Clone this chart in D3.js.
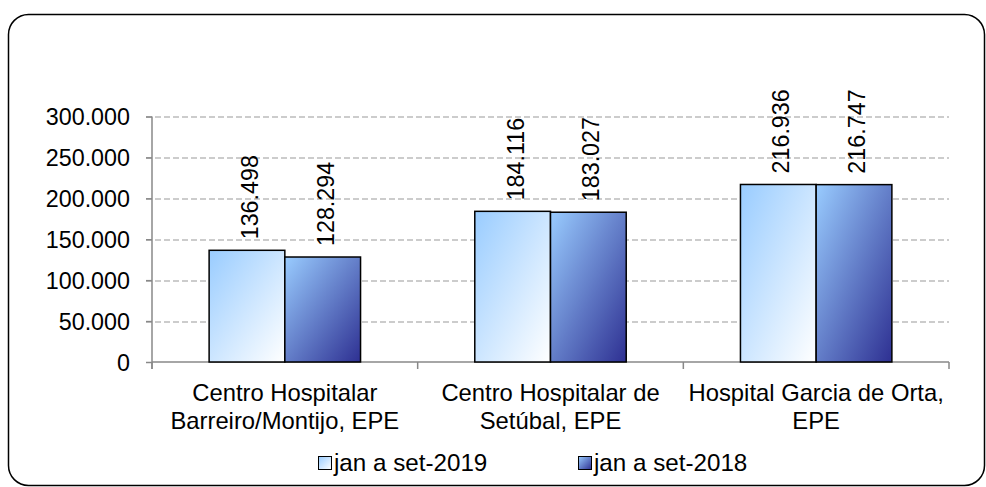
<!DOCTYPE html>
<html>
<head>
<meta charset="utf-8">
<script src="https://cdn.jsdelivr.net/npm/d3@7"></script>
<style>
  body { margin: 0; background: #fff; }
  text { font-family: "Liberation Sans", Arial, sans-serif; fill: #000; }
</style>
</head>
<body>
<svg id="chart" width="986" height="487"></svg>
<script>
var categories = [
  ["Centro Hospitalar", "Barreiro/Montijo, EPE"],
  ["Centro Hospitalar de", "Setúbal, EPE"],
  ["Hospital Garcia de Orta,", "EPE"]
];
var series = ["jan a set-2019", "jan a set-2018"];
var values2019 = [136498, 184116, 216936];
var values2018 = [128294, 183027, 216747];
var yTicks = [0, 50000, 100000, 150000, 200000, 250000, 300000];

var svg = d3.select("#chart");
var fs = 23.3;
var margin = {left: 152, right: 37, top: 116.5, bottom: 125};
var width = 986 - margin.left - margin.right;
var height = 487 - margin.top - margin.bottom;

var loc = d3.formatLocale({decimal: ",", thousands: ".", grouping: [3], currency: ["", ""]});
var fmt = loc.format(",d");

// gradients
var defs = svg.append("defs");
var grads = [["g2019", "#99ccff", "#ffffff"], ["g2018", "#99ccff", "#2e3092"]];
grads.forEach(function(g) {
  var lg = defs.append("linearGradient").attr("id", g[0])
    .attr("x1", 0).attr("y1", 0).attr("x2", 1).attr("y2", 1);
  lg.append("stop").attr("offset", "0%").attr("stop-color", g[1]);
  lg.append("stop").attr("offset", "100%").attr("stop-color", g[2]);
});

// frame
svg.append("rect").attr("x", 8.5).attr("y", 14.5).attr("width", 976).attr("height", 471)
  .attr("rx", 20).attr("fill", "#fff").attr("stroke", "#000").attr("stroke-width", 1.5);

var g = svg.append("g").attr("transform", "translate(" + margin.left + "," + margin.top + ")");

var x0 = d3.scaleBand().domain(d3.range(categories.length)).range([0, width]).paddingInner(0).paddingOuter(0);
var x1 = d3.scaleBand().domain(series).range([x0.bandwidth() * 0.215, x0.bandwidth() * 0.785]);
var y = d3.scaleLinear().domain([0, 300000]).range([height, 0]);

// gridlines
g.selectAll(".grid").data(yTicks.slice(1)).enter().append("line")
  .attr("x1", -6).attr("x2", width)
  .attr("y1", function(d) { return Math.round(y(d)) + 0.5; })
  .attr("y2", function(d) { return Math.round(y(d)) + 0.5; })
  .attr("stroke", "#999").attr("stroke-width", 1.2).attr("stroke-dasharray", "6,3");

// y axis
var yAxis = g.append("g").call(d3.axisLeft(y).tickValues(yTicks).tickFormat(fmt).tickSize(6).tickPadding(16));
yAxis.select(".domain").attr("stroke", "#888").attr("stroke-width", 1.5).attr("d", "M0,0V" + (height + 7));
yAxis.selectAll(".tick line").attr("stroke", "#888").attr("stroke-width", 1.5);
yAxis.selectAll(".tick text").attr("font-size", fs).attr("font-family", "Liberation Sans, Arial, sans-serif").attr("dy", "0.36em");

// x axis line and ticks
g.append("line").attr("x1", 0).attr("x2", width).attr("y1", height).attr("y2", height)
  .attr("stroke", "#888").attr("stroke-width", 1.5);
g.selectAll(".xtick").data(d3.range(categories.length + 1)).enter().append("line")
  .attr("x1", function(i) { return i * x0.step(); })
  .attr("x2", function(i) { return i * x0.step(); })
  .attr("y1", height).attr("y2", height + 7)
  .attr("stroke", "#888").attr("stroke-width", 1.5);

// bars
var data = [];
categories.forEach(function(c, i) {
  data.push({cat: i, s: series[0], v: values2019[i], grad: "g2019"});
  data.push({cat: i, s: series[1], v: values2018[i], grad: "g2018"});
});

g.selectAll(".bar").data(data).enter().append("rect")
  .attr("x", function(d) { return x0(d.cat) + x1(d.s); })
  .attr("y", function(d) { return y(d.v); })
  .attr("width", x1.bandwidth())
  .attr("height", function(d) { return height - y(d.v); })
  .attr("fill", function(d) { return "url(#" + d.grad + ")"; })
  .attr("stroke", "#000").attr("stroke-width", 1.5);

// value labels
g.selectAll(".lbl").data(data).enter().append("text")
  .attr("transform", function(d) {
    return "translate(" + (x0(d.cat) + x1(d.s) + x1.bandwidth() / 2 + 11) + "," + (y(d.v) - 11) + ") rotate(-90)";
  })
  .attr("font-size", fs)
  .text(function(d) { return fmt(d.v); });

// category labels
var cl = g.selectAll(".cat").data(categories).enter().append("text")
  .attr("text-anchor", "middle")
  .attr("font-size", 23.8)
  .attr("transform", function(d, i) { return "translate(" + (x0(i) + x0.bandwidth() / 2) + "," + (height + 39) + ")"; });
cl.selectAll("tspan").data(function(d) { return d; }).enter().append("tspan")
  .attr("x", 0).attr("dy", function(d, i) { return i === 0 ? 0 : 28; })
  .text(function(d) { return d; });

// legend
var legX = [318, 578];
var leg = svg.selectAll(".leg").data(series).enter().append("g")
  .attr("transform", function(d, i) { return "translate(" + legX[i] + ",456)"; });
leg.append("rect").attr("x", 0.5).attr("y", 0.5).attr("width", 13).attr("height", 13)
  .attr("fill", function(d, i) { return "url(#" + grads[i][0] + ")"; })
  .attr("stroke", "#000").attr("stroke-width", 1);
leg.append("text").attr("x", 16).attr("y", 15).attr("font-size", 24.2)
  .text(function(d) { return d; });
</script>
</body>
</html>
